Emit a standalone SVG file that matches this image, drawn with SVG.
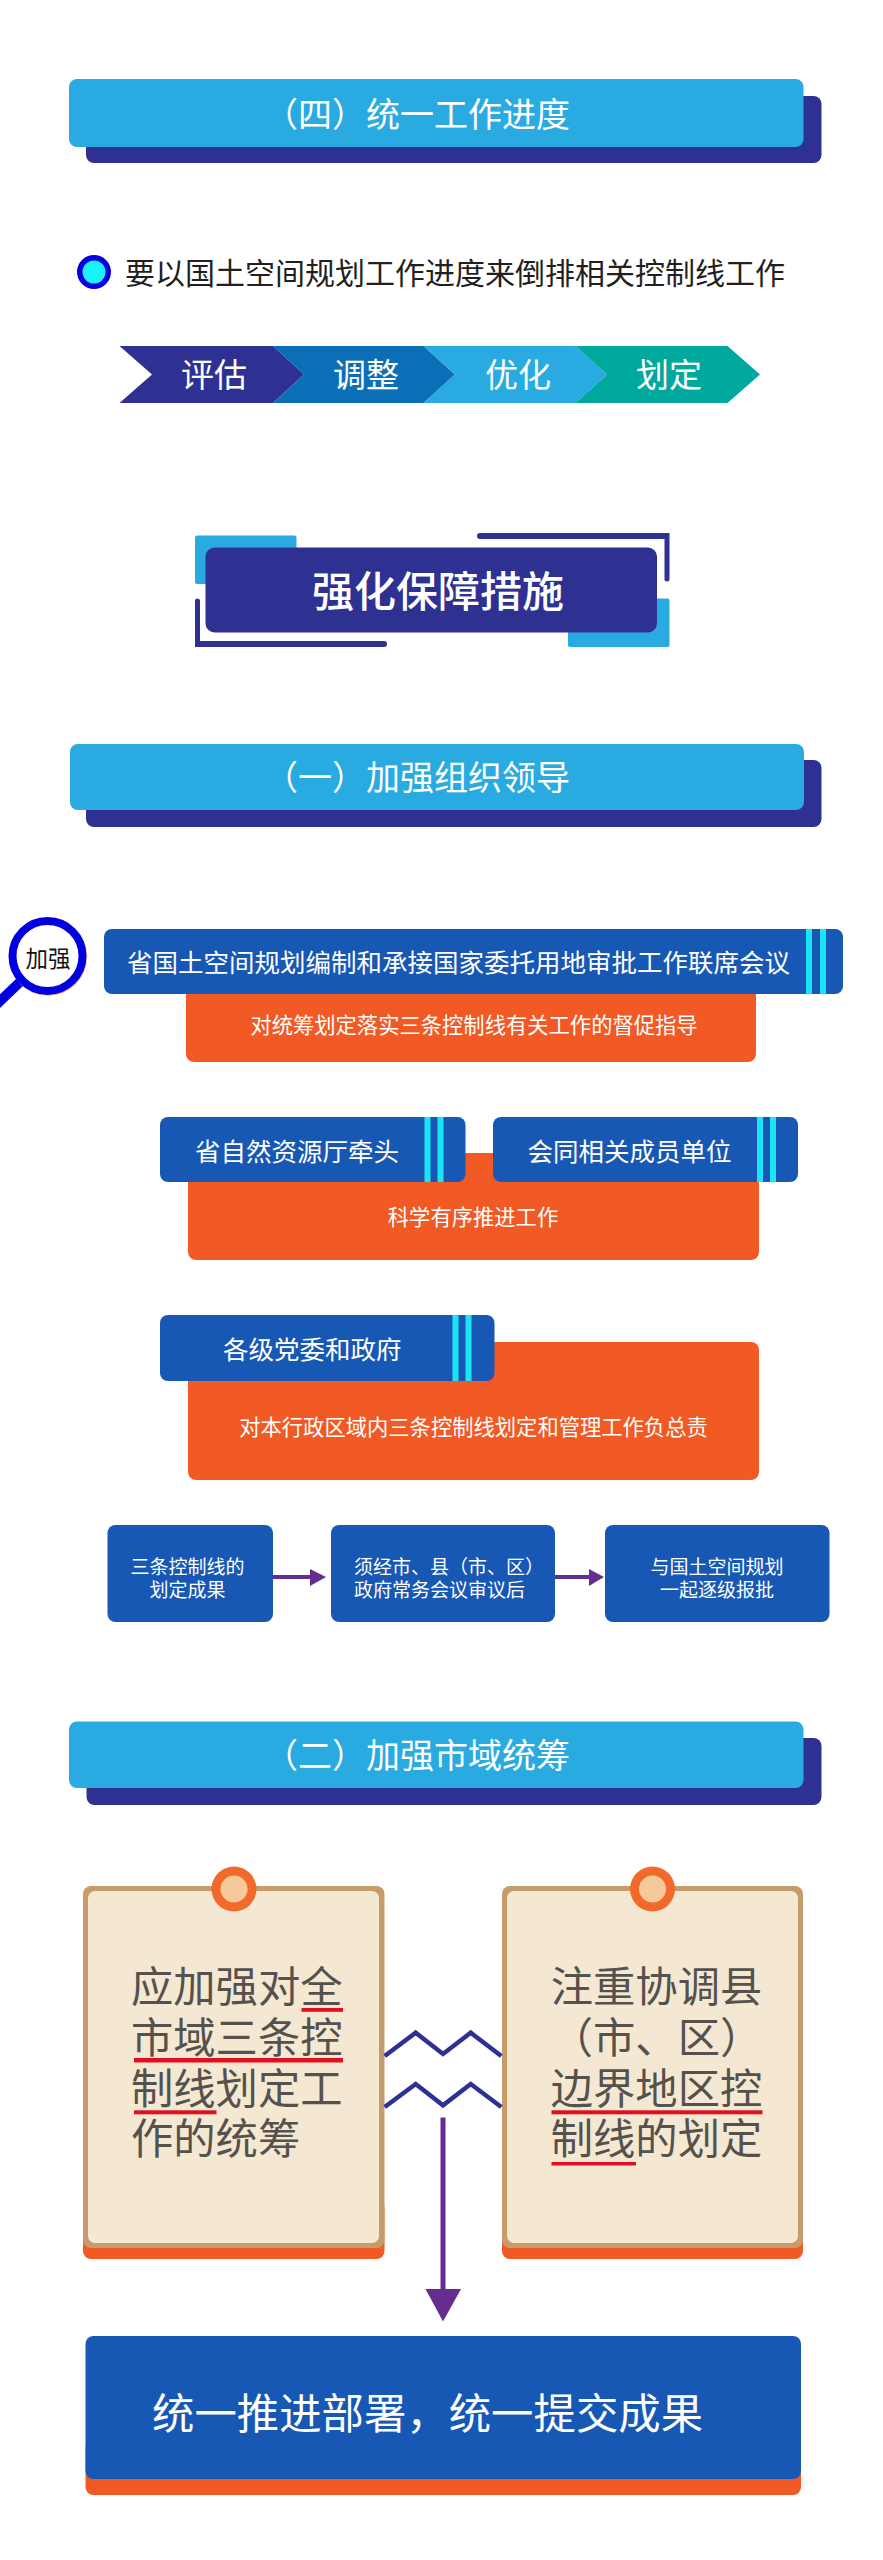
<svg xmlns="http://www.w3.org/2000/svg" width="883" height="2560" viewBox="0 0 883 2560">
<defs>
<style>
text{font-family:"Noto Sans CJK SC","Noto Sans",sans-serif;fill:#fff}
.h{font-size:34px}
.m{font-size:25.5px}
.o{font-size:21.3px}
.s{font-size:19px}
.c{font-size:42.3px;fill:#55514c}
.mid{text-anchor:middle}
.lb{fill:#29abe2}.dk{fill:#2e3192}.bl{fill:#1758b5}.or{fill:#f15a24}.cy{fill:#1ce4f5}
.tan{fill:#c69c6d}.cr{fill:#f4e8d3}.red{fill:#e00f1f}
.zig{fill:none;stroke:#2e3192;stroke-width:4.5}
.pur{fill:#662d91}
</style>
</defs>
<rect width="883" height="2560" fill="#fff"/>

<g id="header-4">
<rect class="dk" x="86" y="96" width="735.500" height="67" rx="8"/>
<rect class="lb" x="69" y="79" width="734.500" height="68" rx="8"/>
<text class="h" x="264" y="127">（四）统一工作进度</text>
</g>

<g id="bullet-line">
<circle cx="94" cy="272" r="17" fill="#0000e0"/>
<circle cx="94" cy="272" r="11.500" fill="#1cf0fa"/>
<text x="125" y="283.500" font-size="30" style="fill:#231f20">要以国土空间规划工作进度来倒排相关控制线工作</text>
</g>

<g id="chevrons">
<polygon points="119.500,346 273,346 304,374.500 273,403 119.500,403 152,374.500" class="dk"/>
<polygon points="273,346 423.500,346 455,374.500 423.500,403 273,403 304,374.500" fill="#0b6fb8"/>
<polygon points="423.500,346 575.500,346 607,374.500 575.500,403 423.500,403 455,374.500" class="lb"/>
<polygon points="575.500,346 727.500,346 760,374.500 727.500,403 575.500,403 607,374.500" fill="#00a99d"/>
<text x="214" y="386.500" font-size="33" class="mid">评估</text>
<text x="366" y="386.500" font-size="33" class="mid">调整</text>
<text x="518" y="386.500" font-size="33" class="mid">优化</text>
<text x="669" y="386.500" font-size="33" class="mid">划定</text>
</g>

<g id="main-title">
<rect class="lb" x="195" y="535.500" width="101.500" height="48.500" rx="2"/>
<rect class="lb" x="568" y="598.500" width="101.500" height="48.500" rx="2"/>
<path class="dk" d="M480 533H669.500V579a2.500 2.500 0 0 1-5 0V539H480a3 3 0 0 1 0-6Z"/>
<path class="dk" d="M195 601a2.500 2.500 0 0 1 5 0V641H384a3 3 0 0 1 0 6H195Z"/>
<rect class="dk" x="205.500" y="547.500" width="451.500" height="85" rx="9"/>
<text x="312" y="606.500" font-size="42" font-weight="500">强化保障措施</text>
</g>

<g id="header-1">
<rect class="dk" x="86" y="760" width="735.500" height="67" rx="8"/>
<rect class="lb" x="70" y="744" width="734" height="66" rx="8"/>
<text class="h" x="264" y="790">（一）加强组织领导</text>
</g>

<g id="magnifier">
<path d="M20 982L-4 1005" fill="none" stroke="#0000e0" stroke-width="10"/>
<circle cx="48.300" cy="956.800" r="35" fill="#fff" stroke="#f9c48c" stroke-width="8"/>
<circle cx="47.500" cy="956" r="35" fill="#fff" stroke="#0000e0" stroke-width="8"/>
<text x="48" y="966.500" font-size="22.500" class="mid" style="fill:#111">加强</text>
</g>

<g id="joint-meeting">
<rect class="or" x="186" y="970" width="570" height="92" rx="8"/>
<rect class="bl" x="104" y="929" width="739" height="65" rx="8"/>
<rect class="cy" x="806" y="929" width="6" height="65"/>
<rect class="cy" x="820" y="929" width="6" height="65"/>
<text class="m" x="127" y="971.500">省国土空间规划编制和承接国家委托用地审批工作联席会议</text>
<text class="o mid" x="474" y="1033">对统筹划定落实三条控制线有关工作的督促指导</text>
</g>

<g id="provincial-dept">
<rect class="or" x="188" y="1153" width="571" height="107" rx="8"/>
<rect class="bl" x="160" y="1117" width="305.500" height="65" rx="8"/>
<rect class="cy" x="424.500" y="1117" width="6" height="65"/>
<rect class="cy" x="437.500" y="1117" width="6" height="65"/>
<rect class="bl" x="493" y="1117" width="305" height="65" rx="8"/>
<rect class="cy" x="757" y="1117" width="6" height="65"/>
<rect class="cy" x="770" y="1117" width="6" height="65"/>
<text class="m" x="195" y="1160.500">省自然资源厅牵头</text>
<text class="m" x="527.500" y="1160.500">会同相关成员单位</text>
<text class="o mid" x="473" y="1224.500">科学有序推进工作</text>
</g>

<g id="party-gov">
<rect class="or" x="188" y="1342" width="571" height="138" rx="8"/>
<rect class="bl" x="160" y="1315" width="334.500" height="66" rx="8"/>
<rect class="cy" x="452.500" y="1315" width="6" height="66"/>
<rect class="cy" x="465.500" y="1315" width="6" height="66"/>
<text class="m" x="223" y="1358.500">各级党委和政府</text>
<text class="o mid" x="473.500" y="1435">对本行政区域内三条控制线划定和管理工作负总责</text>
</g>

<g id="flow-1">
<rect class="bl" x="107.500" y="1525" width="165.500" height="97" rx="8"/>
<text class="s mid" x="187.500" y="1574">三条控制线的</text>
<text class="s mid" x="187.500" y="1596.500">划定成果</text>
</g>
<g id="flow-2">
<rect class="bl" x="331" y="1525" width="224" height="97" rx="8"/>
<text class="s" x="354" y="1574">须经市、县（市、区）</text>
<text class="s" x="354" y="1596.500">政府常务会议审议后</text>
</g>
<g id="flow-3">
<rect class="bl" x="605" y="1525" width="224.500" height="97" rx="8"/>
<text class="s mid" x="717" y="1574">与国土空间规划</text>
<text class="s mid" x="717" y="1596.500">一起逐级报批</text>
</g>

<g id="header-2">
<rect class="dk" x="86.500" y="1738" width="735" height="67" rx="8"/>
<rect class="lb" x="69" y="1721.500" width="734.500" height="66.500" rx="8"/>
<text class="h" x="264" y="1768">（二）加强市域统筹</text>
</g>

<g id="card-left">
<rect class="or" x="83" y="2200" width="301.500" height="59" rx="8"/>
<rect class="tan" x="83" y="1886" width="301.500" height="362" rx="8"/>
<rect class="cr" x="88" y="1891" width="291" height="352" rx="7"/>
<circle cx="234" cy="1889" r="22.500" fill="#f26a2b"/>
<circle cx="234" cy="1889" r="13.500" fill="#f6c99b"/>
<text class="c" x="131" y="2001.500">应加强对全</text>
<text class="c" x="131" y="2052.500">市域三条控</text>
<text class="c" x="131" y="2103.500">制线划定工</text>
<text class="c" x="131" y="2154">作的统筹</text>
<rect class="red" x="301.500" y="2008" width="41.500" height="3.800"/>
<rect class="red" x="134" y="2058" width="209" height="4.500"/>
<rect class="red" x="134" y="2110.300" width="82.500" height="4"/>
</g>

<g id="card-right">
<rect class="or" x="502" y="2200" width="301" height="59" rx="8"/>
<rect class="tan" x="502" y="1886" width="301" height="362" rx="8"/>
<rect class="cr" x="507" y="1891" width="291" height="352" rx="7"/>
<circle cx="652.500" cy="1889" r="22.500" fill="#f26a2b"/>
<circle cx="652.500" cy="1889" r="13.500" fill="#f6c99b"/>
<text class="c mid" x="656.500" y="2001.500">注重协调县</text>
<text class="c mid" x="656.500" y="2052.500">（市、区）</text>
<text class="c mid" x="656.500" y="2103.500">边界地区控</text>
<text class="c mid" x="656.500" y="2154">制线的划定</text>
<rect class="red" x="551.500" y="2110.300" width="211" height="4"/>
<rect class="red" x="551.500" y="2162" width="84.500" height="3.500"/>
</g>

<g id="result">
<rect class="or" x="85.500" y="2440" width="715.500" height="55" rx="8"/>
<rect class="bl" x="85.500" y="2336" width="715.500" height="143" rx="8"/>
<text x="152" y="2429" font-size="42.400">统一推进部署，统一提交成果</text>
</g>

<g id="connectors">
<rect class="pur" x="273" y="1575" width="38" height="4"/>
<polygon class="pur" points="310,1569 326,1577 310,1586"/>
<rect class="pur" x="555" y="1575" width="35" height="4"/>
<polygon class="pur" points="589,1569 604,1577 589,1586"/>
<polyline class="zig" points="384.700,2056 415.700,2032.700 443,2054 470.700,2032.700 501.300,2056"/>
<polyline class="zig" points="384.700,2107 415.700,2084 443,2105.300 470.700,2084 501.300,2107"/>
<rect class="pur" x="440.500" y="2117.500" width="5" height="172"/>
<polygon class="pur" points="425.500,2289 461,2289 443,2321.500"/>
</g>
</svg>
